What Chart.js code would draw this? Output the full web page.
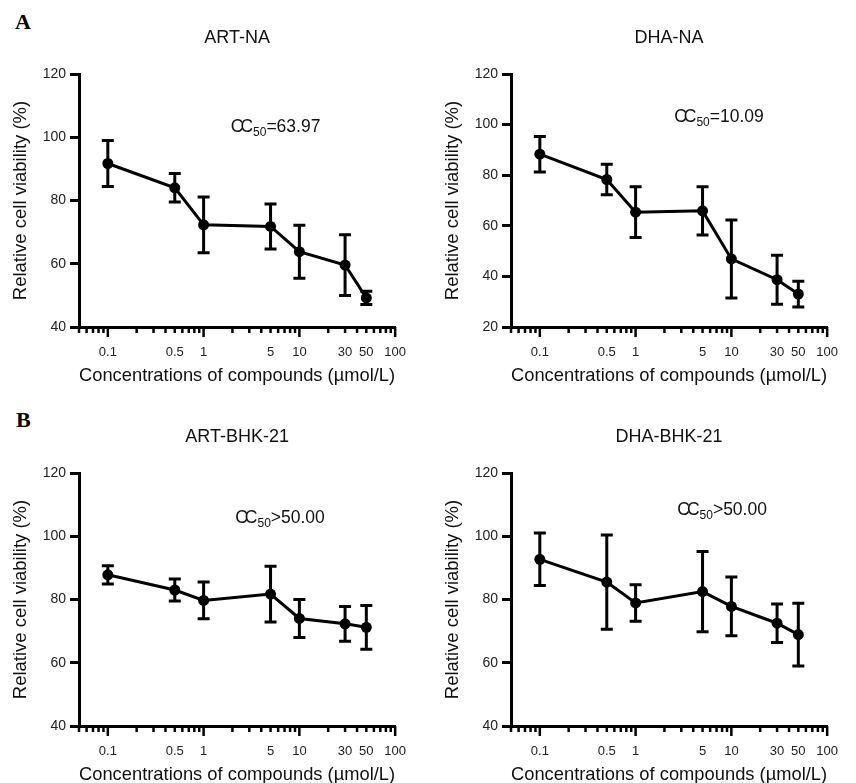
<!DOCTYPE html>
<html>
<head>
  <title>Cell viability</title>
  <script src="https://cdn.jsdelivr.net/npm/chart.js"></script>
  <style>
    body { margin: 0; width: 856px; height: 783px; overflow: hidden; background: #fff; }
    .panel { position: absolute; width: 424px; height: 390px; }
    .tag { position: absolute; font-family: "Liberation Serif", "Times New Roman", serif; font-weight: bold; font-size: 22px; line-height: 22px; color: #000; }
  </style>
</head>
<body>
  <div class="tag" style="left:15px; top:11px;">A</div>
  <div class="tag" style="left:16px; top:409px;">B</div>

  <div class="panel" style="left:0; top:0;"><canvas id="c1" width="424" height="390"></canvas></div>
  <div class="panel" style="left:432px; top:0;"><canvas id="c2" width="424" height="390"></canvas></div>
  <div class="panel" style="left:0; top:399px;"><canvas id="c3" width="424" height="390"></canvas></div>
  <div class="panel" style="left:432px; top:399px;"><canvas id="c4" width="424" height="390"></canvas></div>

  <script>
    // concentrations (µmol/L)
    const concentrations = [0.1, 0.5, 1, 5, 10, 30, 50];
    const xTickLabels = [0.1, 0.5, 1, 5, 10, 30, 50, 100];
    const xMajorTicks = [0.1, 1, 10, 100];
    const xMinorTicks = [0.05, 0.06, 0.07, 0.08, 0.09,
                         0.2, 0.3, 0.4, 0.5, 0.6, 0.7, 0.8, 0.9,
                         2, 3, 4, 5, 6, 7, 8, 9,
                         20, 30, 40, 50, 60, 70, 80, 90];

    // relative cell viability (%), mean and error
    const artNaMean  = [91.7, 84.0, 72.3, 71.8, 63.8, 59.6, 49.2];
    const artNaErr   = [7.3, 4.5, 8.8, 7.1, 8.4, 9.6, 2.1];
    const dhaNaMean  = [88.3, 78.3, 65.4, 65.9, 46.9, 38.7, 33.0];
    const dhaNaErr   = [7.0, 6.0, 10.0, 9.5, 15.4, 9.7, 5.1];
    const artBhkMean = [87.8, 83.0, 79.7, 81.7, 74.0, 72.3, 71.2];
    const artBhkErr  = [2.9, 3.5, 5.8, 8.8, 6.0, 5.5, 6.9];
    const dhaBhkMean = [92.7, 85.5, 78.9, 82.5, 77.8, 72.5, 68.9];
    const dhaBhkErr  = [8.3, 14.9, 5.8, 12.7, 9.3, 6.1, 9.9];

    const panelTitles = ['ART-NA', 'DHA-NA', 'ART-BHK-21', 'DHA-BHK-21'];
    const cc50Texts = ['=63.97', '=10.09', '>50.00', '>50.00'];
    const yMins = [40, 20, 40, 40];
    const yMax = 120;

    const FONT = '"Liberation Sans", Arial, sans-serif';

    const errorBars = {
      id: 'errorBars',
      beforeDatasetsDraw(chart) {
        const { ctx, scales: { x, y } } = chart;
        const ds = chart.data.datasets[0];
        ctx.save();
        ctx.strokeStyle = '#000';
        ctx.lineWidth = 3;
        ds.data.forEach((p, i) => {
          const px = x.getPixelForValue(p.x);
          const top = y.getPixelForValue(p.y + ds.errors[i]);
          const bot = y.getPixelForValue(p.y - ds.errors[i]);
          ctx.beginPath();
          ctx.moveTo(px, top); ctx.lineTo(px, bot);
          ctx.moveTo(px - 6, top); ctx.lineTo(px + 6, top);
          ctx.moveTo(px - 6, bot); ctx.lineTo(px + 6, bot);
          ctx.stroke();
        });
        ctx.restore();
      }
    };

    // log axis tick marks: long at decades, short in between
    const logTicks = {
      id: 'logTicks',
      afterDraw(chart) {
        const { ctx, chartArea, scales: { x } } = chart;
        ctx.save();
        ctx.strokeStyle = '#000';
        ctx.lineWidth = 2.5;
        const draw = (v, len) => {
          const px = x.getPixelForValue(v);
          ctx.beginPath();
          ctx.moveTo(px, chartArea.bottom);
          ctx.lineTo(px, chartArea.bottom + len);
          ctx.stroke();
        };
        xMinorTicks.forEach(v => draw(v, 6));
        xMajorTicks.forEach(v => draw(v, 10));
        ctx.restore();
      }
    };

    const panelText = {
      id: 'panelText',
      afterDraw(chart, args, opts) {
        const { ctx, chartArea: a } = chart;
        ctx.save();
        ctx.fillStyle = '#111';
        // panel title
        ctx.font = '18px ' + FONT;
        ctx.textAlign = 'center';
        ctx.textBaseline = 'middle';
        ctx.fillText(opts.title, (a.left + a.right) / 2, a.top - 36);
        // CC50 note
        ctx.textAlign = 'left';
        ctx.textBaseline = 'alphabetic';
        let px = a.left + opts.fx * a.width;
        const py = a.top + opts.fy * a.height;
        ctx.font = '17.5px ' + FONT;
        ctx.fillText('C', px, py);
        px += ctx.measureText('C').width - 3;
        ctx.fillText('C', px, py);
        px += ctx.measureText('C').width;
        ctx.font = '12px ' + FONT;
        ctx.fillText('50', px, py + 4);
        px += ctx.measureText('50').width;
        ctx.font = '17.5px ' + FONT;
        ctx.fillText(opts.text, px, py);
        ctx.restore();
      }
    };

    const makePanel = (id, idx, mean, err, fx, fy) => {
      return new Chart(document.getElementById(id), {
        type: 'line',
        data: {
          datasets: [{
            data: concentrations.map((c, i) => ({ x: c, y: mean[i] })),
            errors: err,
            borderColor: '#000',
            backgroundColor: '#000',
            borderWidth: 3,
            pointRadius: 5.5,
            pointBorderWidth: 0,
            tension: 0
          }]
        },
        options: {
          responsive: false,
          animation: false,
          layout: { padding: { top: 74, right: 27, bottom: 0, left: 0 } },
          plugins: {
            legend: { display: false },
            tooltip: { enabled: false },
            panelText: { title: panelTitles[idx], text: cc50Texts[idx], fx: fx, fy: fy }
          },
          scales: {
            x: {
              type: 'logarithmic',
              min: 0.05,
              max: 100,
              afterBuildTicks: s => { s.ticks = xTickLabels.map(v => ({ value: v })); },
              afterFit: s => { s.height = 63; },
              grid: { display: false, drawTicks: false },
              border: { display: true, width: 3, color: '#000' },
              ticks: {
                autoSkip: false,
                maxRotation: 0,
                padding: 18,
                color: '#222',
                font: { family: FONT, size: 13 },
                callback: v => String(v)
              },
              title: {
                display: true,
                text: 'Concentrations of compounds (µmol/L)',
                color: '#111',
                font: { family: FONT, size: 18.5 },
                padding: { top: 0, bottom: 3 }
              }
            },
            y: {
              min: yMins[idx],
              max: yMax,
              afterFit: s => { s.width = 79; },
              grid: { drawOnChartArea: false, drawTicks: true, tickLength: 9, lineWidth: 3, color: '#000' },
              border: { display: true, width: 3, color: '#000' },
              ticks: {
                stepSize: 20,
                padding: 4,
                color: '#222',
                font: { family: FONT, size: 14 }
              },
              title: {
                display: true,
                text: 'Relative cell viability (%)',
                color: '#111',
                font: { family: FONT, size: 18.5 },
                padding: { top: 10, bottom: 0 }
              }
            }
          }
        },
        plugins: [errorBars, logTicks, panelText]
      });
    };

    makePanel('c1', 0, artNaMean, artNaErr, 0.48, 0.229);
    makePanel('c2', 1, dhaNaMean, dhaNaErr, 0.516, 0.189);
    makePanel('c3', 2, artBhkMean, artBhkErr, 0.494, 0.198);
    makePanel('c4', 3, dhaBhkMean, dhaBhkErr, 0.526, 0.166);
  </script>
</body>
</html>
